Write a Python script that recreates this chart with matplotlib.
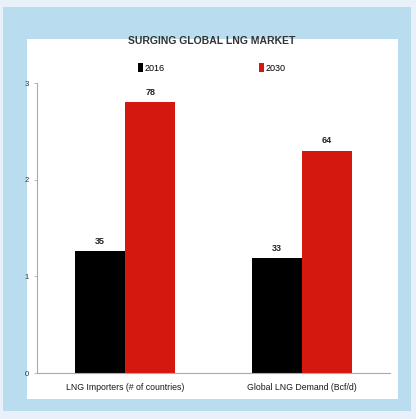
import matplotlib
matplotlib.use("Agg")
import matplotlib.pyplot as plt
from matplotlib.patches import Rectangle
import numpy as np

plt.rcParams['font.family'] = ['Liberation Sans', 'DejaVu Sans']

categories = ["LNG Importers (# of countries)", "Global LNG Demand (Bcf/d)"]
series_names = ["2016", "2030"]
values_2016 = [35, 33]
values_2030 = [78, 64]
tick_labels = ["0", "1", "2", "3"]

colors = ["#000000", "#d5180f"]
W, H = 416, 419
fig = plt.figure(figsize=(W / 100, H / 100), dpi=100, facecolor="#e8f1f9")


def box(x0, y0, x1, y1):
    # pixel box (top-left origin) -> figure fraction rectangle
    return (x0 / W, 1 - y1 / H, (x1 - x0) / W, (y1 - y0) / H)


x, y, w, h = box(3, 7, 411, 411)
fig.patches.append(Rectangle((x, y), w, h, transform=fig.transFigure,
                             facecolor="#b9dcee", edgecolor="none", zorder=-2))
x, y, w, h = box(27, 39, 398, 399)
fig.patches.append(Rectangle((x, y), w, h, transform=fig.transFigure,
                             facecolor="#ffffff", edgecolor="none", zorder=-1))

ax = fig.add_axes(box(37, 83, 390, 373))
ax.set_zorder(2)
ax.set_facecolor("none")

xpos = np.arange(len(categories))
bw = 0.284
b1 = ax.bar(xpos - bw / 2, values_2016, bw, color=colors[0], label=series_names[0])
b2 = ax.bar(xpos + bw / 2, values_2030, bw, color=colors[1], label=series_names[1])
for bars in (b1, b2):
    ax.bar_label(bars, labels=[str(v) for v in bars.datavalues], padding=4,
                 fontsize=6.5, fontweight="bold", color="#222222")

ymax = 83.5
ax.set_ylim(0, ymax)
ax.set_xlim(-0.5, 1.5)
ax.set_yticks(np.linspace(0, ymax, len(tick_labels)))
ax.set_yticklabels(tick_labels, fontsize=5.5, color="#333333")
ax.tick_params(axis="y", length=2, width=0.6, color="#aaaaaa", pad=4)
ax.set_xticks(xpos)
ax.set_xticklabels(categories, fontsize=6.3, color="#1a1a1a")
ax.tick_params(axis="x", length=0, pad=7)
for s in ("top", "right"):
    ax.spines[s].set_visible(False)
for s in ("left", "bottom"):
    ax.spines[s].set_color("#aaaaaa")
    ax.spines[s].set_linewidth(0.8)

fig.text(212 / W, 1 - 41 / H, "SURGING GLOBAL LNG MARKET", ha="center", va="center",
         fontsize=7.5, fontweight="bold", color="#333333")

fig.legend(handles=[b1, b2], labels=series_names, loc="center",
           bbox_to_anchor=(212 / W, 1 - 68 / H), ncol=2, frameon=False,
           fontsize=6.5, handlelength=0.55, handleheight=1.0, handletextpad=0.15,
           columnspacing=10.5, borderaxespad=0)

fig.savefig("out.png", dpi=100, facecolor=fig.get_facecolor())
